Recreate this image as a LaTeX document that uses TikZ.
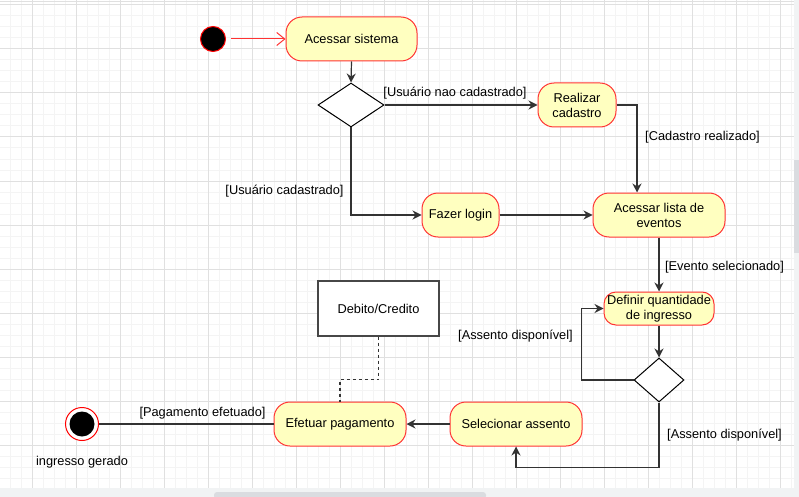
\documentclass[tikz,border=0pt]{standalone}
\usepackage{fontspec}
\setmainfont{Liberation Sans}
\usetikzlibrary{shapes.geometric,arrows.meta}
\definecolor{actfill}{HTML}{FFFFC0}
\definecolor{actdraw}{HTML}{FF3333}
\definecolor{gridminor}{HTML}{F4F4F4}
\definecolor{gridmajor}{HTML}{E0E0E0}
\definecolor{connc}{HTML}{333333}
\definecolor{barbg}{HTML}{F1F3F4}
\definecolor{barthumb}{HTML}{DADCE0}
\tikzset{
  txt/.style={font=\fontsize{12.8}{15}\selectfont, text=black},
  act/.style={txt, draw=actdraw, fill=actfill, line width=1pt, rounded corners=16pt,
    inner sep=0pt, align=center, minimum width=#1},
  act/.default=131pt,
  dec/.style={draw=black, fill=white, diamond, line width=1pt, inner sep=0pt},
  conn/.style={draw=connc, line width=1.2pt, -{Stealth[length=9pt,width=9pt,inset=3pt]}},
  plainconn/.style={draw=connc, line width=1.2pt},
  lbl/.style={txt, inner sep=0pt},
}
\begin{document}
\begin{tikzpicture}[x=1pt,y=-1pt]
\useasboundingbox (0,0) rectangle (799,497);
\fill[white] (0,0) rectangle (799,497);
% grid
\foreach \gx in {-1,10,...,799} \draw[gridminor, line width=1pt] (\gx,0) -- (\gx,497);
\foreach \gy in {5,16,...,497} \draw[gridminor, line width=1pt] (0,\gy) -- (799,\gy);
\foreach \gx in {32,76,...,799} \draw[gridmajor, line width=1pt] (\gx,0) -- (\gx,497);
\foreach \gy in {5,49,...,497} \draw[gridmajor, line width=1pt] (0,\gy) -- (799,\gy);
\draw[gridmajor, line width=1pt] (0,2) -- (799,2);
% scrollbars
\fill[barbg] (0,488) rectangle (799,497);
\fill[barthumb, rounded corners=3pt] (214,492) rectangle (486,499);
\fill[barbg] (794,0) rectangle (799,488);
\fill[barthumb] (794,160) rectangle (799,253);

% start
\node[circle, fill=black, draw=red, line width=1pt, minimum size=25pt, inner sep=0pt] (start) at (213,39) {};
% activities
\node[act=131pt, minimum height=44pt] (sist) at (351.5,39) {Acessar sistema};
\node[act=78pt, minimum height=44pt] (realizar) at (577,105) {Realizar\\cadastro};
\node[act=77pt, minimum height=44pt] (login) at (460.5,215) {Fazer login};
\node[act=132pt, minimum height=44pt] (lista) at (659,215) {Acessar lista de\\eventos};
\node[act=110pt, minimum height=33pt, rounded corners=12pt] (definir) at (659,308.5) {Definir quantidade\\de ingresso};
\node[act=132pt, minimum height=44pt] (selec) at (516,424) {Selecionar assento};
\node[act=132pt, minimum height=44pt] (efet) at (340,424) {Efetuar pagamento};
\node[txt, draw=connc!90, fill=white, line width=1.4pt, minimum width=121pt, minimum height=55pt, inner sep=0pt] (debito) at (378.5,308.5) {Debito/Credito};
% decisions
\node[dec, minimum width=66pt, minimum height=44pt] (d1) at (351,105) {};
\node[dec, minimum width=50pt, minimum height=44pt] (d2) at (659,380) {};
% end
\node[circle, fill=white, draw=red, line width=1pt, minimum size=33pt, inner sep=0pt] (endc) at (82,424) {};
\node[circle, fill=black, minimum size=25pt, inner sep=0pt] (endin) at (endc) {};

% connectors
\draw[draw=red!80, line width=1pt, -{Straight Barb[length=8pt,width=13pt,line width=1pt]}] (start.east) ++(5,0) -- (sist.west);
\draw[conn] (sist.south) -- (d1.north);
\draw[conn] (d1.east) -- (realizar.west);
\draw[conn] (realizar.east) -| ([xshift=-22pt]lista.north);
\draw[conn] (d1.south) |- (login.west);
\draw[conn] (login.east) -- (lista.west);
\draw[conn] (lista.south) -- (definir.north);
\draw[conn] (definir.south) -- (d2.north);
\draw[conn] (d2.west) -- ++(-52,0) |- (definir.west);
\draw[conn] (d2.south) -- ++(0,65) -| (selec.south);
\draw[conn] (selec.west) -- (efet.east);
\draw[plainconn] (efet.west) -- (endc.east);
\draw[draw=connc, line width=1.2pt, dash pattern=on 3pt off 3pt] (debito.south) -- ++(0,43) -| (efet.north);

% labels
\node[lbl] (l1) at (455,93) {[Usuário nao cadastrado]};
\node[lbl] (l2) at (702.5,137) {[Cadastro realizado]};
\node[lbl] (l3) at (284.5,191) {[Usuário cadastrado]};
\node[lbl] (l4) at (724.5,267) {[Evento selecionado]};
\node[lbl] (l5) at (515.5,336) {[Assento disponível]};
\node[lbl] (l6) at (724.5,435) {[Assento disponível]};
\node[lbl] (l7) at (202.5,413) {[Pagamento efetuado]};
\node[lbl] (l8) at (82,462) {ingresso gerado};
\end{tikzpicture}
\end{document}
